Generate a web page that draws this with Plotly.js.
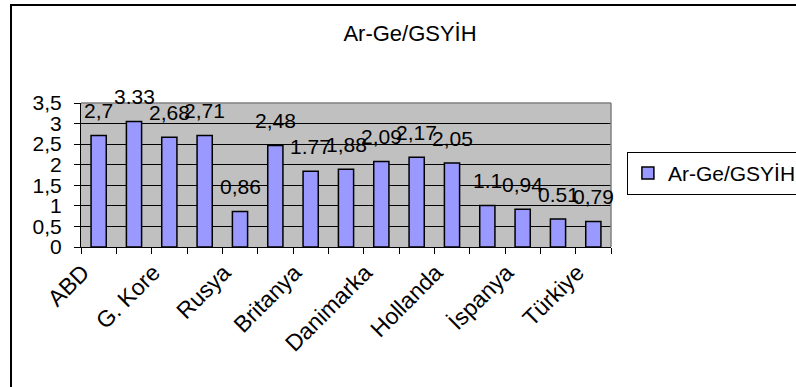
<!DOCTYPE html>
<html>
<head>
<meta charset="utf-8">
<script src="https://cdn.plot.ly/plotly-3.0.1.min.js"></script>
<style>
  html, body { margin: 0; padding: 0; background: #fff; overflow: hidden; }
  #chart { width: 830px; height: 387px; position: relative; }
  #frame { position: absolute; left: 10px; top: 4px; width: 840px; height: 420px;
           border: 2px solid #000; pointer-events: none; box-sizing: border-box; }
</style>
</head>
<body>
<div id="chart"></div>
<div id="frame"></div>
<script>
// Category tick labels (Excel shows only every other one; unlabeled bars are "")
const categories = ["ABD", "", "G. Kore", "", "Rusya", "", "Britanya", "", "Danimarka", "", "Hollanda", "", "İspanya", "", "Türkiye"];
// Bar heights as drawn
const values = [2.71, 3.05, 2.67, 2.71, 0.86, 2.47, 1.84, 1.89, 2.08, 2.18, 2.04, 1.01, 0.92, 0.68, 0.62];
// Data label texts as printed above the bars
const valueLabels = ["2,7", "3.33", "2,68", "2,71", "0,86", "2,48", "1.77", "1,88", "2,09", "2,17", "2,05", "1.1", "0,94", "0.51", "0,79"];
const seriesName = "Ar-Ge/GSYİH";
const chartTitle = "Ar-Ge/GSYİH";

const FONT = "Liberation Sans, Arial, sans-serif";
const positions = categories.map((_, i) => i + 1);
const boundaries = [positions[0] - 0.5].concat(positions.map(p => p + 0.5));

const trace = {
  type: "bar",
  x: positions,
  y: values,
  name: seriesName,
  marker: { color: "#9999FF", line: { color: "#000000", width: 1.5 } },
  hoverinfo: "skip"
};

const annotations = positions.map((p, i) => ({
  x: p, y: values[i], xref: "x", yref: "y",
  text: valueLabels[i], showarrow: false,
  yanchor: "middle", xanchor: "center", yshift: 25,
  font: { family: FONT, size: 21, color: "#000" }
}));

const layout = {
  width: 830, height: 387,
  margin: { l: 81, r: 219, t: 103, b: 140, pad: 0 },
  paper_bgcolor: "#ffffff",
  plot_bgcolor: "#C0C0C0",
  separators: ",.",
  bargap: 0.57,
  font: { family: FONT, color: "#000" },
  title: {
    text: chartTitle, font: { family: FONT, size: 22, color: "#000" },
    x: 410 / 830, xref: "container", xanchor: "center",
    y: 0.913, yref: "container", yanchor: "middle"
  },
  xaxis: {
    range: [boundaries[0], boundaries[boundaries.length - 1]],
    tickmode: "array", tickvals: positions, ticktext: categories,
    tickangle: -45, ticks: "", showgrid: false, zeroline: false,
    showline: true, linecolor: "#000", linewidth: 1,
    tickfont: { family: FONT, size: 23, color: "#000" },
    ticklabelstandoff: 2, ticklabelshift: -16,
    minor: { tickmode: "array", tickvals: boundaries, ticks: "outside", ticklen: 6, tickcolor: "#000", tickwidth: 1, showgrid: false }
  },
  yaxis: {
    range: [0, 3.5], tickmode: "linear", tick0: 0, dtick: 0.5,
    ticks: "outside", ticklen: 6, tickcolor: "#000",
    showline: true, linecolor: "#000", linewidth: 1,
    showgrid: true, gridcolor: "#000", gridwidth: 1, zeroline: false,
    tickfont: { family: FONT, size: 21, color: "#000" },
    ticklabelstandoff: 8
  },
  shapes: [
    { type: "line", xref: "paper", yref: "paper", x0: 0, x1: 1, y0: 1, y1: 1, line: { color: "#808080", width: 1.5 }, layer: "above" },
    { type: "line", xref: "paper", yref: "paper", x0: 1, x1: 1, y0: 0, y1: 1, line: { color: "#808080", width: 1.5 }, layer: "above" }
  ],
  showlegend: true,
  legend: {
    x: 1.030, y: 0.660, xanchor: "left", yanchor: "top",
    bordercolor: "#000", borderwidth: 1, bgcolor: "#fff",
    font: { family: FONT, size: 21, color: "#000" }
  },
  annotations: annotations
};

Plotly.newPlot("chart", [trace], layout, { displayModeBar: false, staticPlot: true });
</script>
</body>
</html>
